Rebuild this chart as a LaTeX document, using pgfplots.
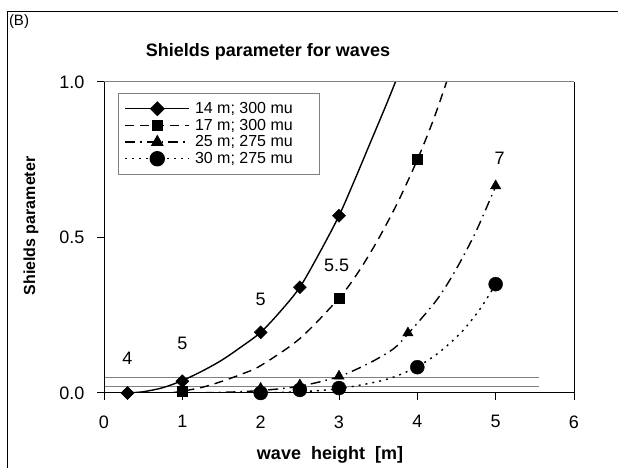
\documentclass[border=0pt]{standalone}
\usepackage{pgfplots}
\pgfplotsset{compat=1.18}
\usepackage{fontspec}
\setmainfont{Liberation Sans}
\begin{document}
\begin{tikzpicture}[x=1pt,y=1pt]
\useasboundingbox (0,0) rectangle (618,468);
\draw[line width=1pt] (7,0) -- (7,456) -- (618,456);
\node[font=\fontsize{15}{17}\selectfont] at (19,446) {(B)};
\node[font=\fontsize{18}{20}\selectfont\bfseries] at (268,416) {Shields parameter for waves};
\node[font=\fontsize{18}{20}\selectfont\bfseries] at (330,13) {wave\ \ height\ \ [m]};
\node[font=\fontsize{16}{18}\selectfont\bfseries, rotate=90] at (31,242) {Shields parameter};
\begin{axis}[
  at={(104pt,75pt)}, anchor=south west,
  width=470pt, height=311pt, scale only axis,
  xmin=0, xmax=6, ymin=0, ymax=1,
  xtick={0,1,2,3,4,5,6}, ytick={0,0.5,1},
  tick align=outside, major tick length=7pt,
  tick pos=left,
  axis line style={draw=none},
  tick style={black, line width=1pt},
  ticklabel style={font=\fontsize{18}{20}\selectfont},
  /pgf/number format/assume math mode=true,
  yticklabel style={xshift=-9pt, /pgf/number format/.cd, fixed, fixed zerofill, precision=1},
  xticklabel style={yshift=-12pt},
  clip mode=individual,
  legend style={at={(axis cs:0.18,0.965)}, anchor=north west, draw=gray, line width=1pt,
    font=\fontsize{16}{18}\selectfont, cells={anchor=west}, row sep=0pt, column sep=3pt,
    inner xsep=6pt, inner ysep=7pt},
  legend image code/.code={\draw[mark repeat=2,mark phase=2] plot coordinates {(0pt,0pt)(32pt,0pt)(64pt,0pt)};},
]
% threshold lines
\addplot[forget plot, gray, line width=1.2pt] coordinates {(0,0.02)(5.55,0.02)};
\addplot[forget plot, gray, line width=1.2pt] coordinates {(0,0.05)(5.55,0.05)};

% series 1: 14 m; 300 mu
\addplot[forget plot, black, line width=1.4pt, smooth] coordinates {
 (0.3,0)(0.5,0.004)(0.75,0.017)(1,0.04)(1.25,0.07)(1.5,0.105)(1.75,0.148)(2,0.195)
 (2.25,0.262)(2.5,0.34)(2.75,0.45)(3,0.57)(3.2,0.685)(3.4,0.805)(3.6,0.925)(3.72,1.0)};
\addplot[forget plot, only marks, mark=square*, mark size=4.6pt, mark options={rotate=45, fill=black}] coordinates {
 (0.3,0)(1,0.038)(2,0.195)(2.5,0.34)(3,0.57)};

% series 2: 17 m; 300 mu
\addplot[forget plot, black, line width=1.4pt, dash pattern=on 9pt off 6pt, smooth] coordinates {
 (0.85,0)(1,0.006)(1.25,0.018)(1.5,0.037)(1.75,0.06)(2,0.088)(2.5,0.175)(3,0.305)
 (3.25,0.39)(3.5,0.494)(3.75,0.613)(4,0.75)(4.2,0.875)(4.36,0.99)(4.37,1.0)};
\addplot[forget plot, only marks, mark=square*, mark size=5pt, mark options={fill=black}] coordinates {
 (1,0.005)(3,0.305)(4,0.752)};

% series 3: 25 m; 275 mu
\addplot[forget plot, black, line width=1.4pt, dash pattern=on 10pt off 5pt on 1.5pt off 5pt, smooth] coordinates {
 (1.0,0)(1.5,0.002)(2,0.008)(2.5,0.022)(3,0.053)(3.4,0.098)(3.7,0.143)(3.88,0.19)
 (4.25,0.30)(4.5,0.40)(4.75,0.52)(5,0.665)};
\addplot[forget plot, only marks, mark=triangle*, mark size=6pt, mark options={fill=black}] coordinates {
 (2,0.015)(2.5,0.026)(3,0.054)(3.88,0.193)(5,0.666)};

% series 4: 30 m; 275 mu
\addplot[forget plot, black, line width=1.4pt, dash pattern=on 2pt off 5pt, smooth] coordinates {
 (1.2,0)(2,0.001)(2.5,0.004)(3,0.014)(3.5,0.037)(3.75,0.056)(4,0.085)(4.25,0.125)
 (4.55,0.192)(4.8,0.27)(5,0.35)};
\addplot[forget plot, only marks, mark=*, mark size=7pt, mark options={fill=black}] coordinates {
 (2,0)(2.5,0.01)(3,0.016)(4,0.083)(5,0.35)};

% legend
\addlegendimage{black, line width=1.4pt, mark=square*, mark size=4.6pt, mark options={rotate=45, fill=black}}
\addlegendentry{\makebox[116pt][l]{14 m; 300 mu}}
\addlegendimage{black, line width=1.4pt, dash pattern=on 9pt off 6pt, mark=square*, mark size=5pt, mark options={solid, fill=black}}
\addlegendentry{\makebox[116pt][l]{17 m; 300 mu}}
\addlegendimage{black, line width=1.4pt, dash pattern=on 10pt off 5pt on 1.5pt off 5pt, mark=triangle*, mark size=6pt, mark options={solid, fill=black}}
\addlegendentry{\makebox[116pt][l]{25 m; 275 mu}}
\addlegendimage{black, line width=1.4pt, dash pattern=on 2pt off 5pt, mark=*, mark size=7pt, mark options={solid, fill=black}}
\addlegendentry{\makebox[116pt][l]{30 m; 275 mu}}

% annotations
\node[font=\fontsize{18}{20}\selectfont] at (axis cs:0.3,0.11) {4};
\node[font=\fontsize{18}{20}\selectfont] at (axis cs:1.0,0.16) {5};
\node[font=\fontsize{18}{20}\selectfont] at (axis cs:2.0,0.30) {5};
\node[font=\fontsize{18}{20}\selectfont] at (axis cs:2.97,0.41) {5.5};
\node[font=\fontsize{18}{20}\selectfont] at (axis cs:5.05,0.755) {7};

% frame of plot area
\draw[black, line width=1pt] (rel axis cs:0,1) -- (rel axis cs:0,0) -- (rel axis cs:1,0) -- (rel axis cs:1,1);
\draw[gray, line width=1pt] (rel axis cs:0,1) -- (rel axis cs:1,1);
\end{axis}
\end{tikzpicture}
\end{document}
